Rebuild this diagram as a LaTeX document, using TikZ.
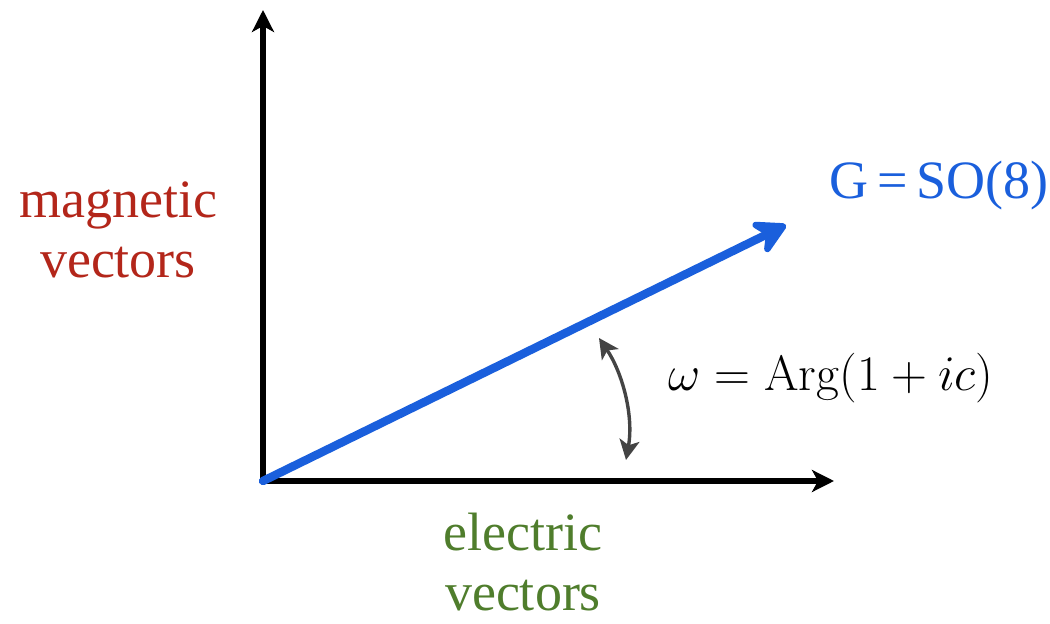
\documentclass[tikz,border=0pt]{standalone}
\usepackage[no-math]{fontspec}
\setmainfont{Liberation Serif}
\usetikzlibrary{arrows.meta}
\definecolor{vecblue}{HTML}{1A5FDC}
\definecolor{magred}{HTML}{B3261A}
\definecolor{elgreen}{HTML}{4F7D2C}
\definecolor{arcgray}{HTML}{444444}
\tikzset{
  axisline/.style={line width=2.6pt, -{Stealth[length=11pt,width=11pt,inset=3pt]}},
  vecline/.style={line width=4.2pt, vecblue, line cap=round, -{Stealth[length=20pt,width=22pt,inset=7pt,round]}},
  arcline/.style={line width=1.7pt, arcgray, {Stealth[length=10pt,width=10pt,inset=2.5pt]}-{Stealth[length=10pt,width=10pt,inset=2.5pt]}},
  lbl/.style={font=\fontsize{27}{30}\selectfont, align=center, inner sep=0pt}
}
\begin{document}
\begin{tikzpicture}[x=0.5pt,y=-0.5pt]
\useasboundingbox (0,0) rectangle (1050,624);
\coordinate (O) at (263,481);
\coordinate (Ytop) at (263,10);
\coordinate (Xend) at (834,481);
\coordinate (Vtip) at (786,225);
\coordinate (A1) at (599,338);
\coordinate (A2) at (626,460);
\draw[axisline] (O) -- (Ytop);
\draw[axisline] (O) -- (Xend);
\draw[vecline] (O) -- (Vtip);
\draw[arcline] (A1) .. controls (622,372) and (634,415) .. (A2);
\node[lbl, text=magred] (mag) at (118,230) {magnetic\\vectors};
\node[lbl, text=elgreen] (ele) at (523,562) {electric\\vectors};
\node[lbl, text=vecblue, anchor=base] (G) at (939,199) {G\,=\,SO(8)};
\node[inner sep=0pt, anchor=base] (w) at (831,391) {\fontsize{23.5}{28}\selectfont $\omega=\mathrm{Arg}(1+ic)$};
\end{tikzpicture}
\end{document}
